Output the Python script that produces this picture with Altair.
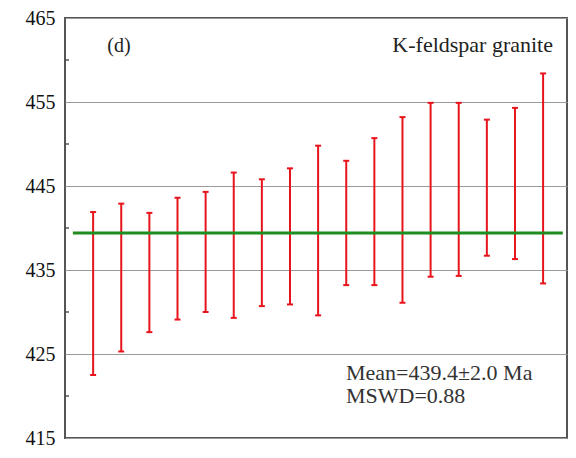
import altair as alt
import pandas as pd

# Data
idx = list(range(1, 18))
lo = [422.5, 425.3, 427.6, 429.1, 430.0, 429.3, 430.7, 430.9, 429.6,
      433.2, 433.2, 431.1, 434.2, 434.3, 436.7, 436.3, 433.4]
hi = [441.9, 442.9, 441.8, 443.6, 444.3, 446.6, 445.8, 447.1, 449.8,
      448.0, 450.7, 453.2, 454.9, 454.9, 452.9, 454.3, 458.4]
mean_age = 439.4
mean_x = [0.28, 17.7]
x_domain = [0, 17.85]
y_ticks = [415, 425, 435, 445, 455, 465]
minor_ticks = [420, 430, 440, 450, 460]

df = pd.DataFrame({"i": idx, "lo": lo, "hi": hi})
mean_df = pd.DataFrame({"x": [mean_x[0]], "x2": [mean_x[1]], "y": [mean_age]})
minor_df = pd.DataFrame({"y": minor_ticks})

FONT = "Liberation Serif, Times New Roman, serif"
RED = "#e8141c"

xs = alt.Scale(domain=x_domain, nice=False, zero=False)
ys = alt.Scale(domain=[415, 465], nice=False, zero=False)

base = alt.Chart(df)

bars = base.mark_rule(color=RED, strokeWidth=2).encode(
    x=alt.X("i:Q", scale=xs, axis=None),
    y=alt.Y("lo:Q", scale=ys, axis=alt.Axis(
        values=y_ticks, title=None, labelFont=FONT, labelFontSize=20,
        labelColor="#111", labelPadding=10, grid=True, gridColor="#9a9a9a",
        gridWidth=1, ticks=False, domain=False)),
    y2="hi:Q",
)

cap_lo = base.mark_rule(color=RED, strokeWidth=2, xOffset=-3, x2Offset=3).encode(
    x=alt.X("i:Q", scale=xs), x2="i:Q", y=alt.Y("lo:Q", scale=ys))
cap_hi = base.mark_rule(color=RED, strokeWidth=2, xOffset=-3, x2Offset=3).encode(
    x=alt.X("i:Q", scale=xs), x2="i:Q", y=alt.Y("hi:Q", scale=ys))

mean_line = alt.Chart(mean_df).mark_rule(color="#1e8c1e", strokeWidth=3).encode(
    x=alt.X("x:Q", scale=xs), x2="x2:Q", y=alt.Y("y:Q", scale=ys))

minor = alt.Chart(minor_df).mark_rule(color="#555", strokeWidth=1.5).encode(
    x=alt.value(0), x2=alt.value(4), y=alt.Y("y:Q", scale=ys))

label_d = alt.Chart(pd.DataFrame({"t": ["(d)"]})).mark_text(
    font=FONT, fontSize=20, color="#222", align="center", baseline="middle"
).encode(x=alt.value(54), y=alt.value(28.3), text="t:N")

label_k = alt.Chart(pd.DataFrame({"t": ["K-feldspar granite"]})).mark_text(
    font=FONT, fontSize=22, color="#222", align="right", baseline="middle"
).encode(x=alt.value(488), y=alt.value(26.7), text="t:N")

stats = alt.Chart(pd.DataFrame({"t": ["Mean=439.4±2.0 Ma"], "t2": ["MSWD=0.88"]}))
label_mean = stats.mark_text(
    font=FONT, fontSize=22, color="#333", align="left", baseline="alphabetic"
).encode(x=alt.value(281), y=alt.value(362), text="t:N")
label_mswd = stats.mark_text(
    font=FONT, fontSize=22, color="#333", align="left", baseline="alphabetic"
).encode(x=alt.value(281), y=alt.value(384.5), text="t2:N")

chart = alt.layer(
    bars, mean_line, cap_lo, cap_hi, minor, label_d, label_k, label_mean, label_mswd
).properties(
    width=502, height=420,
    autosize=alt.AutoSizeParams(type="none"),
    padding={"left": 57, "top": 10, "right": 1, "bottom": 10},
    background="white",
).configure(font=FONT).configure_view(
    stroke="#555", strokeWidth=2
).configure_axis(
    labelFont=FONT, labelFontSize=20, labelColor="#111",
)

chart.save("out.html", embed_options={"renderer": "svg", "actions": False})
